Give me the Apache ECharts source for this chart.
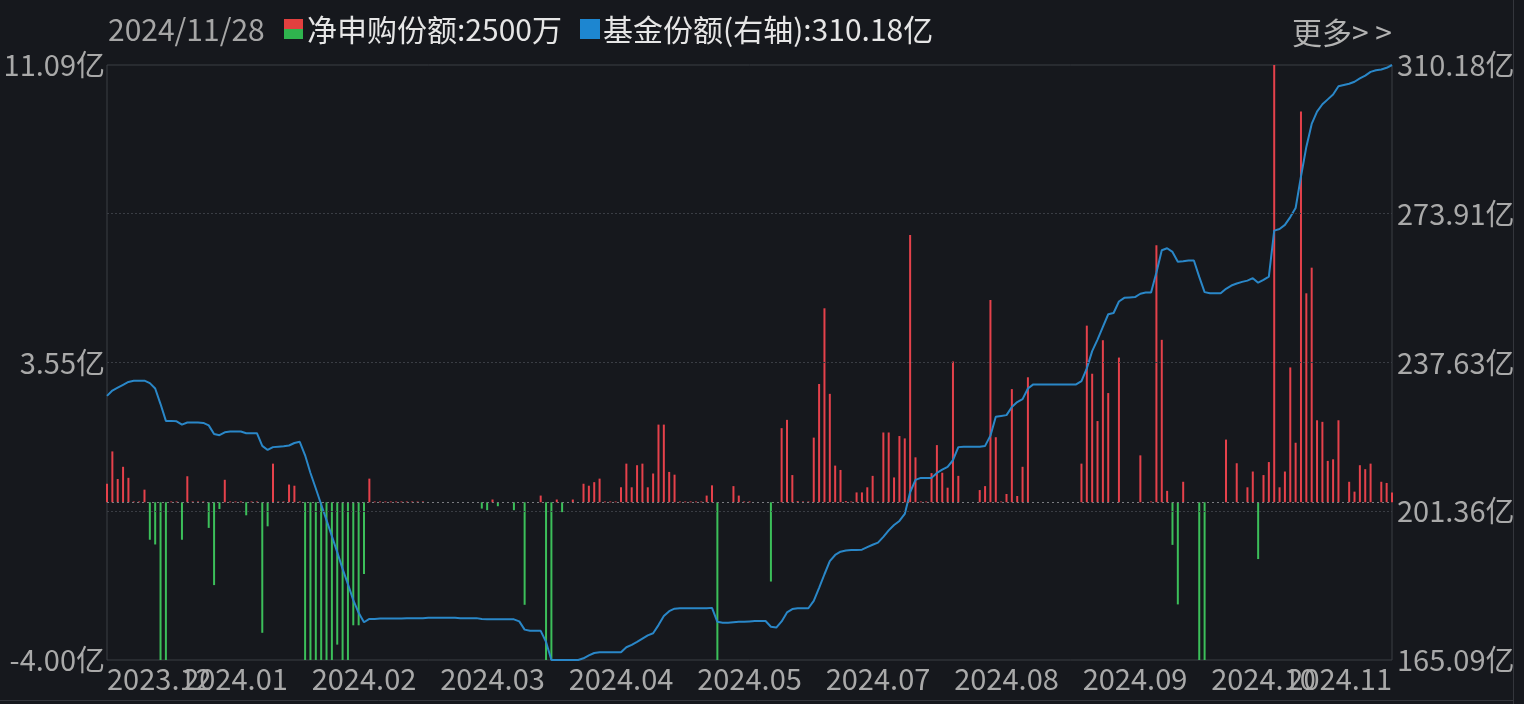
<!DOCTYPE html>
<html><head><meta charset="utf-8">
<script src="https://cdn.jsdelivr.net/npm/echarts@6/dist/echarts.min.js"></script>
<style>html,body{margin:0;padding:0;background:#16181d;}#c{width:1524px;height:704px;}</style>
</head><body><div id="c"></div><script>
// trading days per month (calendar info for the category axis)
const monthDays = [["2023.11",1],["2023.12",21],["2024.01",22],["2024.02",15],["2024.03",21],["2024.04",20],["2024.05",20],["2024.06",19],["2024.07",23],["2024.08",22],["2024.09",19],["2024.10",18],["2024.11",20]];
const categories = [];
monthDays.forEach(function(md){ for (let d = 1; d <= md[1]; d++) categories.push(md[0] + "#" + d); });

const xTickLabels = ["2023.12","2024.01","2024.02","2024.03","2024.04","2024.05","2024.07","2024.08","2024.09","2024.10","2024.11"];
const leftTickValues = [-4, 3.545, 11.09];
const leftTickLabels = ["-4.00亿","3.55亿","11.09亿"];
const rightTickValues = [165.09, 201.3625, 237.635, 273.9075, 310.18];
const rightTickLabels = ["165.09亿","201.36亿","237.63亿","273.91亿","310.18亿"];

// 净申购份额 (亿)
const netFlow = [
0.47,1.29,0.59,0.90,0.62,0.02,0.02,0.32,-0.95,-1.07,
-4.6,-4.6,0.02,0.02,-0.95,0.66,0.02,0.02,0.02,-0.65,
-2.10,-0.17,0.57,0.02,0.02,0.02,-0.33,0.02,0.02,-3.31,
-0.61,0.98,0.02,0.02,0.45,0.42,0.02,-4.8,-5.0,-4.6,
-4.5,-4.4,-4.7,-3.61,-4.9,-4.3,-3.12,-3.12,-1.82,0.60,
0.02,0.02,0.02,0.02,0.02,0.02,0.02,0.02,0.02,0.02,
0,0,0,0,0,0,0,0,0,0,
-0.16,-0.20,0.07,-0.10,0,0,-0.20,0,-2.60,0,
0,0.17,-4.6,-4.5,0.07,-0.25,0,0.07,0,0.47,
0.42,0.51,0.60,0.02,0.02,0.02,0.38,0.98,0.38,0.94,
0.98,0.38,0.73,1.97,1.97,0.77,0.70,0.02,0.02,0.02,
0.02,0.02,0.17,0.43,-4.6,0,0,0.41,0.17,0.02,
0.02,0,0,0,-2.01,0,1.88,2.09,0.69,0.03,
0.02,0.02,1.64,3.00,4.92,2.75,0.93,0.82,0.03,0.02,
0.25,0.25,0.38,0.67,0.02,1.77,1.77,0.63,1.68,1.62,
6.78,1.14,0.02,0.02,0.74,1.45,0.75,0.37,3.57,0.67,
0,0,0,0.31,0.41,5.13,1.65,0.02,0.21,2.87,
0.16,0.90,3.17,0,0,0,0,0,0,0,
0,0,0.98,4.48,3.26,2.06,4.11,2.77,0,3.67,
0,0,0,1.19,0,0.02,6.52,4.12,0.29,-1.08,
-2.59,0.52,0,0,-4.6,-4.6,0,0,0,1.59,
0,0.99,0,0.38,0.78,-1.44,0.69,1.02,11.09,0.38,
0.78,3.42,1.51,9.91,5.30,5.95,2.08,2.04,1.05,1.09,
2.08,0,0.52,0.27,0.94,0.84,0.98,0,0.52,0.49,
0.25
];

// 基金份额 (亿, 右轴)
const fundShares = [
229.5,230.8,231.5,232.2,232.9,233.2,233.2,233.2,232.6,231.3,
227.5,223.4,223.4,223.3,222.5,223.0,223.0,223.0,222.9,222.3,
220.2,219.9,220.6,220.8,220.8,220.8,220.4,220.4,220.4,217.3,
216.3,217.0,217.1,217.2,217.4,218.0,218.3,215.0,210.7,206.9,
203.0,199.2,195.3,191.4,187.3,183.6,179.7,176.6,174.3,175.1,
175.1,175.2,175.2,175.2,175.2,175.2,175.3,175.3,175.3,175.3,
175.4,175.4,175.4,175.4,175.4,175.4,175.3,175.3,175.3,175.3,
175.1,175.0,175.0,175.0,175.0,175.0,175.0,174.5,172.5,172.2,
172.2,172.2,169.5,165.1,165.1,165.1,165.1,165.1,165.1,165.5,
166.2,166.8,167.0,167.0,167.0,167.0,167.0,168.2,168.8,169.5,
170.3,171.1,171.6,173.6,175.8,177.0,177.6,177.7,177.7,177.7,
177.7,177.7,177.7,177.8,174.4,174.2,174.2,174.3,174.4,174.4,
174.5,174.6,174.6,174.6,173.2,173.0,174.5,176.7,177.5,177.7,
177.7,177.7,179.5,182.7,186.0,189.2,190.7,191.5,191.8,191.9,
191.9,192.0,192.6,193.2,193.7,195.1,196.7,198.0,199.0,200.7,
206.0,209.0,209.5,209.5,209.5,210.7,211.5,212.2,213.8,217.0,
217.1,217.1,217.1,217.1,217.3,219.8,224.4,224.6,224.8,226.8,
228.0,228.7,231.3,232.3,232.3,232.3,232.3,232.3,232.3,232.3,
232.3,232.3,233.1,236.2,240.4,243.2,246.3,249.4,249.7,252.5,
253.4,253.5,253.6,254.4,254.7,254.7,259.6,265.0,265.5,264.6,
262.2,262.3,262.5,262.5,258.5,254.8,254.5,254.5,254.5,255.6,
256.4,256.9,257.3,257.6,258.2,257.1,257.8,258.6,269.8,270.2,
271.2,273.1,275.3,283.0,290.2,295.8,298.8,300.6,301.8,303.0,
305.0,305.3,305.6,306.1,306.9,307.6,308.5,308.9,309.1,309.5,
310.18
];

const FONT = '"Noto Sans CJK SC","Noto Sans",sans-serif';
const RED = '#e5414b', GREEN = '#3cbf5a', BLUE = '#2a87c8';
const FS = 29, TFS = 30;

function pick(vals, labels, v) {
  let best = 0, bd = Infinity;
  vals.forEach(function(t, i){ const d = Math.abs(t - v); if (d < bd) { bd = d; best = i; } });
  return labels[best];
}

const xLabelBase = {color: '#a9a9a9', fontSize: FS, fontFamily: FONT, margin: 4, hideOverlap: false};

const chart = echarts.init(document.getElementById('c'), null, {renderer: 'canvas'});
chart.setOption({
  backgroundColor: '#16181d',
  animation: false,
  grid: {left: 107, top: 65, width: 1285, height: 595, show: true, borderColor: '#3b3e45', borderWidth: 1, backgroundColor: 'transparent'},
  xAxis: [
    {type: 'category', data: categories, boundaryGap: false,
     axisLine: {show: false}, axisTick: {show: false}, axisLabel: {show: false}, splitLine: {show: false}},
    // inner date labels (1..9)
    {type: 'value', min: 0, max: 10, interval: 1, position: 'bottom',
     axisLine: {show: false}, axisTick: {show: false}, splitLine: {show: false},
     axisLabel: Object.assign({}, xLabelBase, {showMinLabel: false, showMaxLabel: false,
       formatter: function(v){ const i = Math.round(v); return (i > 0 && i < 10) ? xTickLabels[i] : ''; }})},
    // first and last date labels
    {type: 'value', min: 0, max: 10, interval: 10, position: 'bottom',
     axisLine: {show: false}, axisTick: {show: false}, splitLine: {show: false},
     axisLabel: Object.assign({}, xLabelBase, {showMinLabel: true, showMaxLabel: true,
       alignMinLabel: 'left', alignMaxLabel: 'right',
       formatter: function(v){ return xTickLabels[Math.round(v)]; }})}
  ],
  yAxis: [
    {type: 'value', min: -4, max: 11.09, position: 'left',
     axisLine: {show: false}, axisTick: {show: false}, splitLine: {show: false},
     axisLabel: {customValues: leftTickValues, showMinLabel: true, showMaxLabel: true, color: '#a9a9a9', fontSize: FS, fontFamily: FONT, margin: 2,
       formatter: function(v){ return pick(leftTickValues, leftTickLabels, v); }}},
    {type: 'value', min: 165.09, max: 310.18, position: 'right',
     axisLine: {show: false}, axisTick: {show: false}, splitLine: {show: false},
     axisLabel: {customValues: rightTickValues, showMinLabel: true, showMaxLabel: true, color: '#a9a9a9', fontSize: FS, fontFamily: FONT, margin: 5,
       formatter: function(v){ return pick(rightTickValues, rightTickLabels, v); }}}
  ],
  series: [
    {type: 'line', xAxisIndex: 0, yAxisIndex: 1, data: fundShares.map(function(){return null;}), silent: true, z: 1,
     showSymbol: false, lineStyle: {opacity: 0},
     markLine: {silent: true, symbol: 'none', label: {show: false},
       lineStyle: {type: [2, 2], color: '#3a3d44', width: 1},
       data: [{yAxis: rightTickValues[1]}, {yAxis: rightTickValues[2]}, {yAxis: rightTickValues[3]}]}},
    {type: 'bar', xAxisIndex: 0, yAxisIndex: 0, data: netFlow, barWidth: 2, z: 2,
     itemStyle: {color: function(p){ return p.value >= 0 ? RED : GREEN; }},
     markLine: {silent: true, symbol: 'none', label: {show: false},
       lineStyle: {type: [2, 3], color: '#7a7c80', width: 1},
       data: [{yAxis: 0}]}},
    {type: 'line', xAxisIndex: 0, yAxisIndex: 1, data: fundShares, z: 3,
     showSymbol: false, lineStyle: {color: BLUE, width: 2}}
  ],
  graphic: [
    {type: 'text', x: 108, y: 30, style: {text: '2024/11/28', fill: '#a6a6a6', font: TFS + 'px ' + FONT, textAlign: 'left', textVerticalAlign: 'middle'}},
    {type: 'rect', shape: {x: 284, y: 19, width: 19, height: 10}, style: {fill: '#e2403f'}},
    {type: 'rect', shape: {x: 284, y: 29, width: 19, height: 10}, style: {fill: '#2fb44e'}},
    {type: 'text', x: 307, y: 30, style: {text: '净申购份额:2500万', fill: '#e6e6e6', font: TFS + 'px ' + FONT, textAlign: 'left', textVerticalAlign: 'middle'}},
    {type: 'rect', shape: {x: 580, y: 19, width: 20, height: 20}, style: {fill: '#1d86d0'}},
    {type: 'text', x: 603, y: 30, style: {text: '基金份额(右轴):310.18亿', fill: '#e6e6e6', font: TFS + 'px ' + FONT, textAlign: 'left', textVerticalAlign: 'middle'}},
    {type: 'text', x: 1392, y: 33, style: {text: '更多> >', fill: '#b3b3b3', font: TFS + 'px ' + FONT, textAlign: 'right', textVerticalAlign: 'middle'}},
    {type: 'line', shape: {x1: 1513.5, y1: 0, x2: 1513.5, y2: 704}, style: {stroke: '#34363c', lineWidth: 1}},
    {type: 'line', shape: {x1: 0, y1: 700.5, x2: 1513, y2: 700.5}, style: {stroke: '#34363c', lineWidth: 1}}
  ]
});
</script></body></html>
